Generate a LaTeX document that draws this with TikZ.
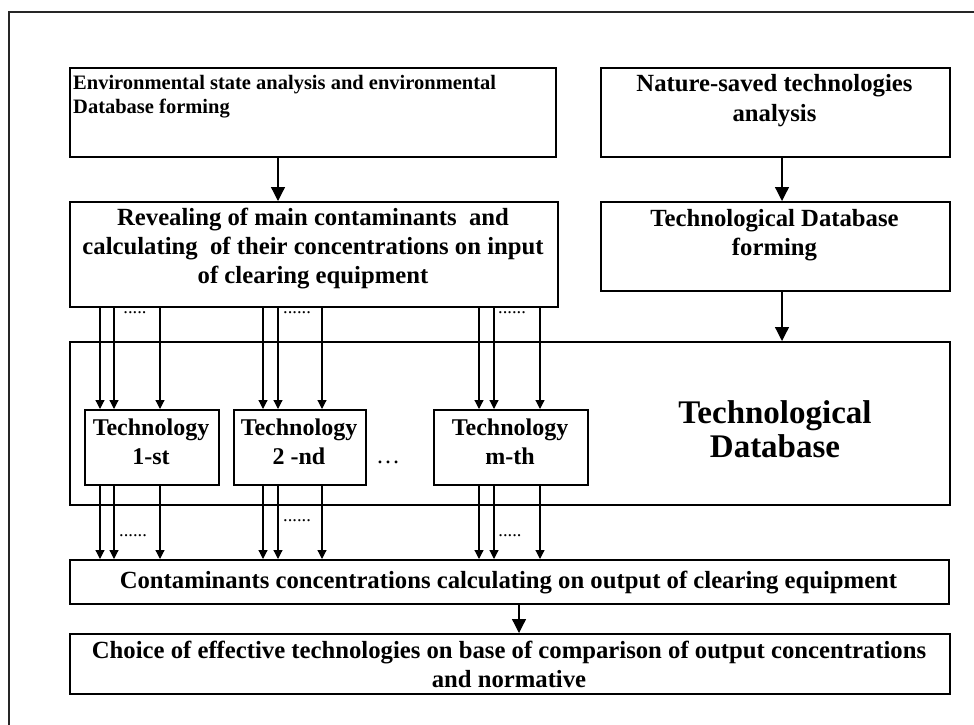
\documentclass[tikz,border=0pt]{standalone}
\usepackage{fontspec}
\setmainfont{Liberation Serif}
\usetikzlibrary{arrows.meta,calc}
\begin{document}
\begin{tikzpicture}[x=1pt,y=-1pt,
  box/.style={draw=black,line width=1.8pt,inner sep=0pt,rectangle,anchor=north west},
  btxt/.style={inner sep=0pt,font=\bfseries\fontsize{24.7}{29}\selectfont,align=center,anchor=base},
  etxt/.style={inner sep=0pt,font=\bfseries\fontsize{20.5}{24}\selectfont,align=left,anchor=base west},
  dbtxt/.style={inner sep=0pt,font=\bfseries\fontsize{33}{34}\selectfont,align=center,anchor=base},
  ttxt/.style={inner sep=0pt,font=\bfseries\fontsize{24}{29}\selectfont,align=center,anchor=base},
  dots/.style={inner sep=0pt,font=\fontsize{18.5}{20}\selectfont,anchor=base},
  bigarr/.style={line width=1.3pt,-{Triangle[length=14pt,width=14pt]}},
  smarr/.style={line width=1.2pt,-{Triangle[length=9pt,width=9pt]}},
  frame/.style={line width=1.5pt,draw=black!85}
]
\useasboundingbox (0,0) rectangle (974,725);
\fill[white] (0,0) rectangle (974,725);
% outer frame (right and bottom sides lie outside the picture)
\draw[frame] (9,725) -- (9,12) -- (974,12);

% boxes
\node[box,minimum width=486pt,minimum height=89pt] (A) at (69,67) {};
\node[box,minimum width=349pt,minimum height=89pt] (B) at (600,67) {};
\node[box,minimum width=488pt,minimum height=105pt] (C) at (69,201) {};
\node[box,minimum width=349pt,minimum height=89pt] (D) at (600,201) {};
\node[box,minimum width=880pt,minimum height=163pt] (DB) at (69,341) {};
\node[box,minimum width=134pt,minimum height=75pt] (T1) at (84,409) {};
\node[box,minimum width=132pt,minimum height=75pt] (T2) at (233,409) {};
\node[box,minimum width=154pt,minimum height=75pt] (T3) at (433,409) {};
\node[box,minimum width=879pt,minimum height=44pt] (Cont) at (69,559) {};
\node[box,minimum width=880pt,minimum height=60pt,line width=2.2pt] (Choice) at (69,633) {};

% texts (anchor base = baseline of the last line)
\node[etxt] (tA) at (73,113) {Environmental state analysis and environmental\\Database forming};
\node[btxt] (tB) at (774.5,121) {Nature-saved technologies\\analysis};
\node[btxt] (tC) at (313,283) {Revealing of main contaminants\ \ and\\calculating\ \ of their concentrations on input\\of clearing equipment};
\node[btxt] (tD) at (774.5,255) {Technological Database\\forming};
\node[dbtxt] (tDB) at (775,457) {Technological\\Database};
\node[ttxt] (tT1) at (151,464) {Technology\\1-st};
\node[ttxt] (tT2) at (299,464) {Technology\\2 -nd};
\node[ttxt] (tT3) at (510,464) {Technology\\m-th};
\node[font=\fontsize{24}{24}\selectfont,inner sep=0pt,anchor=base] (ell) at (388,463) {…};
\node[btxt] (tCont) at (508.5,588) {Contaminants concentrations calculating on output of clearing equipment};
\node[btxt] (tCh) at (509,687) {Choice of effective technologies on base of comparison of output concentrations\\and normative};

% main arrows
\coordinate (xa) at (278,0);
\coordinate (xb) at (782,0);
\coordinate (xc) at (519,0);
\draw[bigarr] (A.south -| xa) -- (C.north -| xa);
\draw[bigarr] (B.south -| xb) -- (D.north -| xb);
\draw[bigarr] (D.south -| xb) -- (DB.north -| xb);
\draw[bigarr] (Cont.south -| xc) -- (Choice.north -| xc);

% multiple connections through the technologies
\foreach \x in {100,114,160} {
  \coordinate (xx) at (\x,0);
  \draw[smarr] (C.south -| xx) -- (T1.north -| xx);
  \draw[smarr] (T1.south -| xx) -- (Cont.north -| xx);
}
\foreach \x in {263,278,322} {
  \coordinate (xx) at (\x,0);
  \draw[smarr] (C.south -| xx) -- (T2.north -| xx);
  \draw[smarr] (T2.south -| xx) -- (Cont.north -| xx);
}
\foreach \x in {479,494,540} {
  \coordinate (xx) at (\x,0);
  \draw[smarr] (C.south -| xx) -- (T3.north -| xx);
  \draw[smarr] (T3.south -| xx) -- (Cont.north -| xx);
}

% dots
\node[dots] (d1) at (135,313) {.....};
\node[dots] (d2) at (297,313) {......};
\node[dots] (d3) at (512,313) {......};
\node[dots] (d4) at (133,536) {......};
\node[dots] (d5) at (297,521) {......};
\node[dots] (d6) at (510,536) {.....};
\end{tikzpicture}
\end{document}
